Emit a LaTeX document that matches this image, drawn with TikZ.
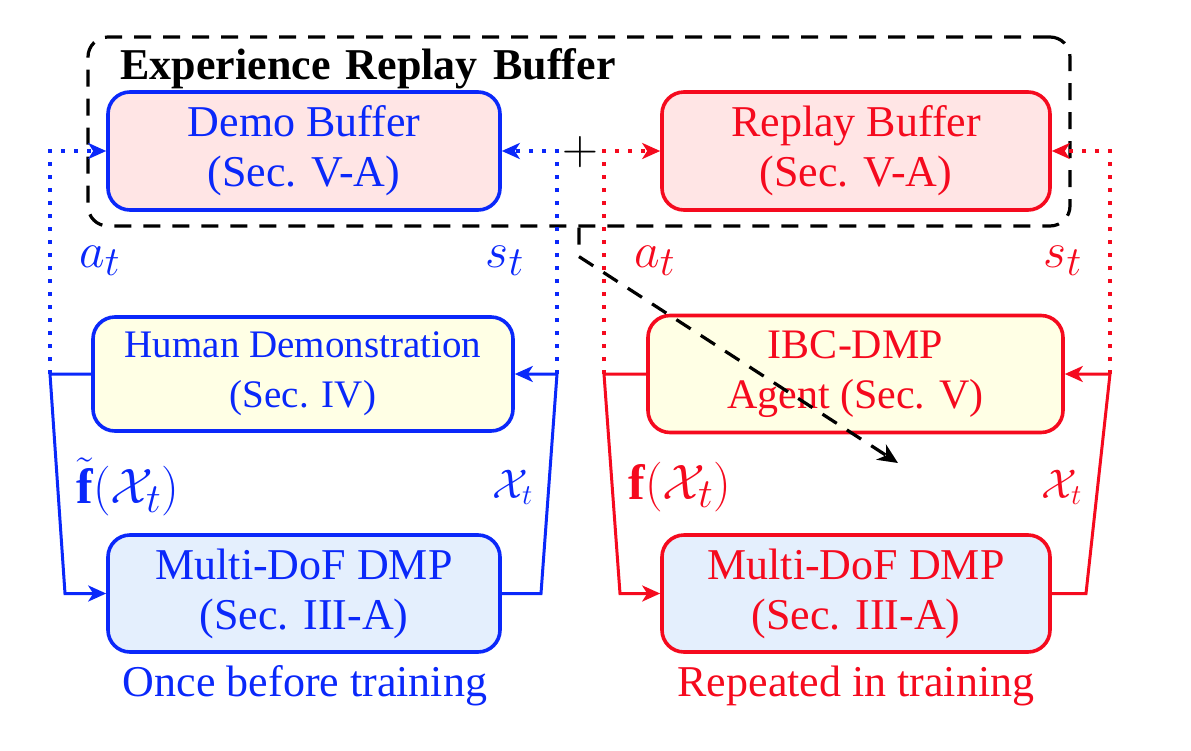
\documentclass[tikz,border=0pt]{standalone}
\usepackage{fontspec}
\setmainfont{Liberation Serif}
\usetikzlibrary{arrows.meta}
\definecolor{myblue}{RGB}{10,40,250}
\definecolor{myred}{RGB}{245,10,30}
\definecolor{mypink}{RGB}{255,229,229}
\definecolor{myyellow}{RGB}{255,255,229}
\definecolor{mylightblue}{RGB}{228,239,253}
\begin{document}
\begin{tikzpicture}[x=0.5pt,y=-0.5pt,
  tipa/.style={-{Stealth[length=9pt,width=8pt,inset=2.5pt]}},
  box/.style={draw, rounded corners=11pt, line width=1.8pt, align=center, inner sep=0pt, font=\fontsize{22}{25}\selectfont},
  bbox/.style={box, draw=myblue, text=myblue},
  rbox/.style={box, draw=myred, text=myred},
  conn/.style={line width=1.5pt, tipa},
  dotconn/.style={line width=2pt, dash pattern=on 2pt off 4.5pt, tipa},
  lab/.style={font=\fontsize{22}{25}\selectfont, inner sep=0pt},
  mlab/.style={font=\fontsize{24.88}{26}\selectfont, inner sep=0pt}
]
\useasboundingbox (0,0) rectangle (1191,751);

% experience replay buffer (dashed)
\node[draw, dash pattern=on 8.5pt off 6pt, line width=1.6pt, rounded corners=10pt,
      minimum width=491pt, minimum height=94.5pt, inner sep=0pt] (erb) at (579,131.5) {};
\node[anchor=base west, inner sep=0pt, font=\fontsize{22}{25}\selectfont\bfseries] (title) at (120,79) {Experience\hspace{0.35em}Replay\hspace{0.35em}Buffer};

% top buffers
\node[bbox, fill=mypink, minimum width=196pt, minimum height=59pt] (demo) at (304,151) {Demo Buffer\\(Sec. V-A)};
\node[rbox, fill=mypink, minimum width=194pt, minimum height=59pt] (replay) at (856,151) {Replay Buffer\\(Sec. V-A)};
\node[mlab] (plus) at (580,152) {$+$};

% middle
\node[bbox, fill=myyellow, minimum width=210pt, minimum height=57pt, font=\fontsize{19.5}{25}\selectfont] (human) at (303,374) {Human Demonstration\\(Sec. IV)};
\node[rbox, fill=myyellow, minimum width=207.5pt, minimum height=58.5pt, font=\fontsize{21}{25}\selectfont] (ibc) at (855.5,374) {IBC-DMP\\Agent (Sec. V)};

% bottom DMPs
\node[bbox, fill=mylightblue, minimum width=196pt, minimum height=58.5pt] (dmpl) at (304,593.5) {Multi-DoF DMP\\(Sec. III-A)};
\node[rbox, fill=mylightblue, minimum width=194pt, minimum height=58.5pt] (dmpr) at (856,593.5) {Multi-DoF DMP\\(Sec. III-A)};

% corner coordinates
\coordinate (bl1) at (50,374);
\coordinate (bl2) at (65,593.5);
\coordinate (br1) at (557,374);
\coordinate (br2) at (541,593.5);
\coordinate (rl1) at (604,374);
\coordinate (rl2) at (620,593.5);
\coordinate (rr1) at (1110,374);
\coordinate (rr2) at (1086,593.5);
\coordinate (dtip) at (898,463);

% blue loop
\draw[conn, myblue] (human.west) -- (bl1) -- (bl2) -- (dmpl.west);
\draw[conn, myblue] (dmpl.east) -- (br2) -- (br1) -- (human.east);
\draw[dotconn, myblue] (bl1) |- (demo.west);
\draw[dotconn, myblue] (br1) |- (demo.east);

% red loop
\draw[conn, myred] (ibc.west) -- (rl1) -- (rl2) -- (dmpr.west);
\draw[conn, myred] (dmpr.east) -- (rr2) -- (rr1) -- (ibc.east);
\draw[dotconn, myred] (rl1) |- (replay.west);
\draw[dotconn, myred] (rr1) |- (replay.east);

% labels
\node[mlab, text=myblue] (atl) at (100,261) {$a_t$};
\node[mlab, text=myblue] (stl) at (505,261) {$s_t$};
\node[mlab, text=myred] (atr) at (655,261) {$a_t$};
\node[mlab, text=myred] (str) at (1063,261) {$s_t$};
\node[mlab, text=myblue] (fl) at (128,487) {$\tilde{\mathbf{f}}(\mathcal{X}_t)$};
\node[lab, text=myblue] (xl) at (513,487) {$\mathcal{X}_t$};
\node[mlab, text=myred] (fr) at (680,487) {$\mathbf{f}(\mathcal{X}_t)$};
\node[lab, text=myred] (xr) at (1062,487) {$\mathcal{X}_t$};
\node[lab, text=myblue] (once) at (305,686) {Once before training};
\node[lab, text=myred] (rep) at (856,686) {Repeated in training};

% dashed arrow
\draw[line width=1.6pt, dash pattern=on 8.5pt off 6pt, -{Stealth[length=10pt,width=9pt,inset=3pt]}] (erb.south) -- ++(0,29) -- (dtip);
\end{tikzpicture}
\end{document}
